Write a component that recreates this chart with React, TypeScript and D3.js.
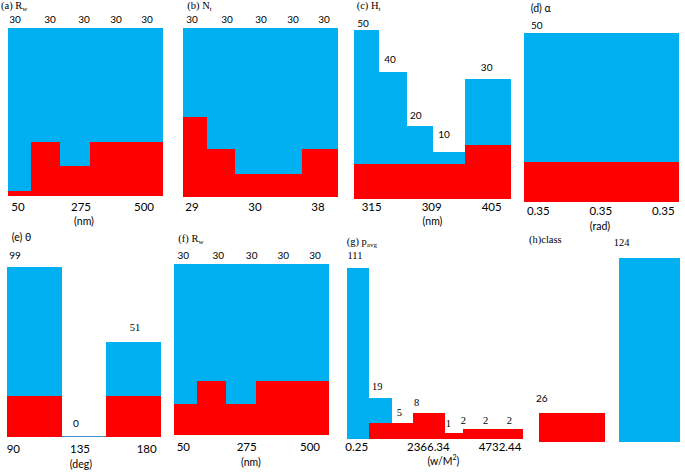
import React from 'react';
import * as d3 from 'd3';

const BLUE = '#00B0F0';
const RED = '#FF0000';
const SANS = 'Lato, "Open Sans", sans-serif';
const SERIF = '"Liberation Serif", "Times New Roman", serif';

// ---------- DATA ----------
// (a) Rw
const aBlueEdges = [0, 1, 2, 3, 4, 5];
const aBlueValues = [30, 30, 30, 30, 30];
const aRedEdges = [0, 0.72, 1.67, 2.64, 5];
const aRedValues = [0.9, 9.7, 5.4, 9.7];
const aCountLabels = ['30', '30', '30', '30', '30'];
const aTicks = ['50', '275', '500'];

// (b) Nt
const bBlueEdges = [0, 1, 2, 3, 4, 5];
const bBlueValues = [30, 30, 30, 30, 30];
const bRedEdges = [0, 0.755, 1.668, 3.839, 5];
const bRedValues = [14.2, 8.5, 4.0, 8.5];
const bCountLabels = ['30', '30', '30', '30', '30'];
const bTicks = ['29', '30', '38'];

// (c) Ht
const cBlueEdges = [0, 15.8, 33.5, 50.5, 70.8, 100];
const cBlueValues = [50, 37.5, 21.6, 14, 35.5];
const cRedEdges = [0, 70.8, 100];
const cRedValues = [10.3, 16];
const cCountLabels = ['50', '40', '20', '10', '30'];
const cTicks = ['315', '309', '405'];

// (d) alpha
const dBlueEdges = [0, 1];
const dBlueValues = [50];
const dRedEdges = [0, 1];
const dRedValues = [12];
const dCountLabels = ['50'];
const dTicks = ['0.35', '0.35', '0.35'];

// (e) theta
const eBlueEdges = [0, 35.6, 64.3, 100];
const eBlueValues = [99, 0, 55.2];
const eRedEdges = [0, 35.6, 64.3, 100];
const eRedValues = [24, 0, 24];
const eCountLabels = ['99', '0', '51'];
const eTicks = ['90', '135', '180'];

// (f) Rw
const fBlueEdges = [0, 1, 2, 3, 4, 5];
const fBlueValues = [30, 30, 30, 30, 30];
const fRedEdges = [0, 0.743, 1.661, 2.641, 5];
const fRedValues = [5.45, 9.54, 5.45, 9.54];
const fCountLabels = ['30', '30', '30', '30', '30'];
const fTicks = ['50', '275', '500'];

// (g) p_avg
const gBlueEdges = [0, 12.35, 25.27, 37.22];
const gBlueValues = [111, 26.9, 10.2];
const gRedEdges = [12.35, 37.22, 55.77, 66.02, 100];
const gRedValues = [10.2, 17.1, 4.1, 6.3];
const gLabelEdges = [0, 12.35, 25.27, 37.22, 55.77, 66.02, 77.35, 88.68, 100];
const gCountLabels = ['111', '19', '5', '8', '1', '2', '2', '2'];
const gTicks = ['0.25', '2366.34', '4732.44'];

// (h) class
const hBlueEdges = [57.0, 100];
const hBlueValues = [124];
const hRedEdges = [0, 46.8];
const hRedValues = [19.5];
const hLabelEdges = [0, 46.8, 57.0, 100];
const hCountLabels = ['26', '', '124'];

// ---------- LAYOUT ----------
type Bin = { x0: number; x1: number; v: number };
const toBins = (edges: number[], values: number[]): Bin[] =>
  values.map((v, i) => ({ x0: edges[i], x1: edges[i + 1], v }));

interface Panel {
  key: string;
  box: { x0: number; x1: number; top: number; bottom: number };
  xDomain: [number, number];
  yMax: number;
  blue: Bin[];
  red: Bin[];
  labelEdges: number[];
  labels: string[];
  labelDx: number[];
  labelDy: number[];
  labelSerif: boolean[];
  title: { x: number; y: number; main: string; sub?: string; serif: boolean };
  ticks?: string[];
  tickInset?: [number, number];
  tickY?: number;
  unit?: { text: string; dx: number; y: number; sup?: string };
  zeroLine?: boolean;
}

const fill = <T,>(n: number, v: T): T[] => Array.from({ length: n }, () => v);

const panels: Panel[] = [
  {
    key: 'a',
    box: { x0: 8.3, x1: 163.3, top: 27.7, bottom: 196 },
    xDomain: [0, 5], yMax: 30,
    blue: toBins(aBlueEdges, aBlueValues), red: toBins(aRedEdges, aRedValues),
    labelEdges: aBlueEdges, labels: aCountLabels,
    labelDx: [-8.8, -4.8, -1.8, -0.8, -0.8], labelDy: fill(5, -9.2), labelSerif: fill(5, false),
    title: { x: 1, y: 9, main: '(a) R', sub: 'w', serif: true },
    ticks: aTicks, tickInset: [9.7, 19.3], tickY: 206,
    unit: { text: '(nm)', dx: -1.8, y: 220.5 },
  },
  {
    key: 'b',
    box: { x0: 183.3, x1: 338.3, top: 27.7, bottom: 196.7 },
    xDomain: [0, 5], yMax: 30,
    blue: toBins(bBlueEdges, bBlueValues), red: toBins(bRedEdges, bRedValues),
    labelEdges: bBlueEdges, labels: bCountLabels,
    labelDx: [-6.8, -2.8, 0.2, 1.2, 1.2], labelDy: fill(5, -9.2), labelSerif: fill(5, false),
    title: { x: 187.3, y: 9, main: '(b) N', sub: 't', serif: true },
    ticks: bTicks, tickInset: [8.7, 20.3], tickY: 206,
  },
  {
    key: 'c',
    box: { x0: 354.3, x1: 510.7, top: 30, bottom: 199 },
    xDomain: [0, 100], yMax: 50,
    blue: toBins(cBlueEdges, cBlueValues), red: toBins(cRedEdges, cRedValues),
    labelEdges: cBlueEdges, labels: cCountLabels,
    labelDx: [-3.7, -2.9, -4.3, -5.2, -1.2], labelDy: [-7.3, -13, -11, -17.4, -11.7], labelSerif: fill(5, false),
    title: { x: 356.7, y: 9, main: '(c) H', sub: 't', serif: true },
    ticks: cTicks, tickInset: [17.4, 19], tickY: 206,
    unit: { text: '(nm)', dx: 0, y: 220.5 },
  },
  {
    key: 'd',
    box: { x0: 524.3, x1: 679.3, top: 33.3, bottom: 202.3 },
    xDomain: [0, 1], yMax: 50,
    blue: toBins(dBlueEdges, dBlueValues), red: toBins(dRedEdges, dRedValues),
    labelEdges: dBlueEdges, labels: dCountLabels,
    labelDx: [-65.1], labelDy: [-8.3], labelSerif: [false],
    title: { x: 530.7, y: 12, main: '(d) α', serif: false },
    ticks: dTicks, tickInset: [14, 16], tickY: 210,
    unit: { text: '(rad)', dx: -1.8, y: 226 },
  },
  {
    key: 'e',
    box: { x0: 6.7, x1: 161, top: 267.3, bottom: 436.7 },
    xDomain: [0, 100], yMax: 99,
    blue: toBins(eBlueEdges, eBlueValues), red: toBins(eRedEdges, eRedValues),
    labelEdges: eBlueEdges, labels: eCountLabels,
    labelDx: [-19.2, -7.9, 1.5], labelDy: [-12.3, -14, -14.6], labelSerif: [false, false, true],
    title: { x: 11.7, y: 240.5, main: '(e) θ', serif: false },
    ticks: eTicks, tickInset: [6.6, 14.3], tickY: 448.5,
    unit: { text: '(deg)', dx: -2.9, y: 463.5 },
    zeroLine: true,
  },
  {
    key: 'f',
    box: { x0: 174.3, x1: 329, top: 264.3, bottom: 435 },
    xDomain: [0, 5], yMax: 30,
    blue: toBins(fBlueEdges, fBlueValues), red: toBins(fRedEdges, fRedValues),
    labelEdges: fBlueEdges, labels: fCountLabels,
    labelDx: [-6.5, -2.4, 0, 0.7, 1.5], labelDy: fill(5, -9.3), labelSerif: fill(5, false),
    title: { x: 178.3, y: 242, main: '(f) R', sub: 'w', serif: true },
    ticks: fTicks, tickInset: [9, 19], tickY: 446,
    unit: { text: '(nm)', dx: -0.7, y: 462 },
  },
  {
    key: 'g',
    box: { x0: 347.3, x1: 523, top: 268.3, bottom: 439 },
    xDomain: [0, 100], yMax: 111,
    blue: toBins(gBlueEdges, gBlueValues), red: toBins(gRedEdges, gRedValues),
    labelEdges: gLabelEdges, labels: gCountLabels,
    labelDx: [-3.2, -3.1, -2.9, -12.3, -6, -10, -7.5, -3.8],
    labelDy: [-13.3, -11, -10.6, -10, -9.4, -8.6, -8.6, -8.6],
    labelSerif: fill(8, true),
    title: { x: 346.7, y: 245, main: '(g) p', sub: 'avg', serif: true },
    ticks: gTicks, tickInset: [9.4, 23], tickY: 446,
    unit: { text: '(w/M', sup: '2', dx: 8.2, y: 460.5 },
  },
  {
    key: 'h',
    box: { x0: 539, x1: 680, top: 258.3, bottom: 442.3 },
    xDomain: [0, 100], yMax: 124,
    blue: toBins(hBlueEdges, hBlueValues), red: toBins(hRedEdges, hRedValues),
    labelEdges: hLabelEdges, labels: hCountLabels,
    labelDx: [-30.3, 0, -28], labelDy: [-15, 0, -15.6], labelSerif: [false, false, true],
    title: { x: 529, y: 243, main: '(h)class', serif: true },
  },
];

function heightAt(p: Panel, x: number): number {
  let h = 0;
  for (const b of [...p.blue, ...p.red]) {
    if (x >= b.x0 && x < b.x1) h = Math.max(h, b.v);
  }
  return h;
}

function PanelView({ p }: { p: Panel }) {
  const x = d3.scaleLinear().domain(p.xDomain).range([p.box.x0, p.box.x1]);
  const y = d3.scaleLinear().domain([0, p.yMax]).range([p.box.bottom, p.box.top]);
  const center = (p.box.x0 + p.box.x1) / 2;
  const tickScale = p.ticks
    ? d3.scalePoint<string>()
        .domain(p.ticks.map((_, i) => String(i)))
        .range([p.box.x0 + p.tickInset![0], p.box.x1 - p.tickInset![1]])
    : null;
  const titleFont = p.title.serif ? SERIF : SANS;
  return (
    <g>
      <text x={p.title.x} y={p.title.y} fontFamily={titleFont} fontSize={10.5} fill="#000">
        {p.title.main}
        {p.title.sub && (
          <tspan fontSize={7} dy={2}>{p.title.sub}</tspan>
        )}
      </text>
      <g shapeRendering="crispEdges">
        {p.blue.map((b, i) =>
          b.v > 0 ? (
            <rect key={'b' + i} x={x(b.x0)} y={y(b.v)} width={x(b.x1) - x(b.x0)} height={y(0) - y(b.v)} fill={BLUE} />
          ) : p.zeroLine ? (
            <rect key={'b' + i} x={x(b.x0)} y={y(0) - 1} width={x(b.x1) - x(b.x0)} height={1} fill="#3f8fc8" />
          ) : null
        )}
        {p.red.map((b, i) =>
          b.v > 0 ? (
            <rect key={'r' + i} x={x(b.x0)} y={y(b.v)} width={x(b.x1) - x(b.x0)} height={y(0) - y(b.v)} fill={RED} />
          ) : null
        )}
      </g>
      {p.labels.map((t, i) => {
        if (!t) return null;
        const x0 = p.labelEdges[i];
        const x1 = p.labelEdges[i + 1];
        const h = heightAt(p, x0 + (x1 - x0) * 0.01);
        return (
          <text
            key={'l' + i}
            x={x((x0 + x1) / 2) + p.labelDx[i]}
            y={y(h) + p.labelDy[i]}
            textAnchor="middle"
            dominantBaseline="central"
            fontFamily={p.labelSerif[i] ? SERIF : SANS}
            fontSize={p.labelSerif[i] ? 10.5 : 10}
            fill="#000"
          >
            {t}
          </text>
        );
      })}
      {p.ticks && tickScale &&
        p.ticks.map((t, i) => (
          <text
            key={'t' + i}
            x={tickScale(String(i))}
            y={p.tickY}
            textAnchor="middle"
            dominantBaseline="central"
            fontFamily={SANS}
            fontSize={11.5}
            fill="#000"
          >
            {t}
          </text>
        ))}
      {p.unit && (
        <text
          x={center + p.unit.dx}
          y={p.unit.y}
          textAnchor="middle"
          dominantBaseline="central"
          fontFamily={SANS}
          fontSize={10.5}
          fill="#000"
        >
          {p.unit.text}
          {p.unit.sup && (
            <tspan fontSize={7} dy={-4}>{p.unit.sup}</tspan>
          )}
          {p.unit.sup && <tspan dy={4}>)</tspan>}
        </text>
      )}
    </g>
  );
}

export default function App() {
  return (
    <svg
      width={685}
      height={474}
      viewBox="0 0 685 474"
      style={{ position: 'absolute', left: 0, top: 0, background: '#fff' }}
    >
      <rect x={0} y={0} width={685} height={474} fill="#fff" />
      {panels.map((p) => (
        <PanelView key={p.key} p={p} />
      ))}
    </svg>
  );
}
